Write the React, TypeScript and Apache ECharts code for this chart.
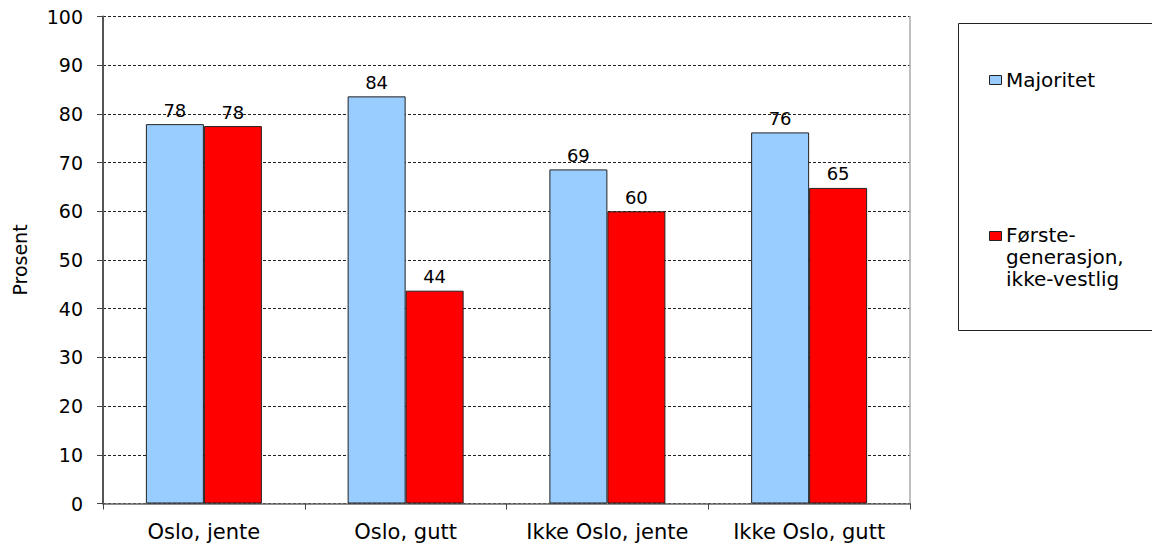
import React, { useEffect, useRef } from "react";
import * as echarts from "echarts";

const categories = ["Oslo, jente", "Oslo, gutt", "Ikke Oslo, jente", "Ikke Oslo, gutt"];
const seriesNames = ["Majoritet", "Første-\ngenerasjon,\nikke-vestlig"];
const majoritet = [77.9, 83.6, 68.6, 76.2];
const forste = [77.5, 43.7, 60.0, 64.8];
const yTicks = { min: 0, max: 100, interval: 10 };
const colors = ["#99CCFF", "#FF0000"];
const axisName = "Prosent";

const FONT = "DejaVu Sans, Liberation Sans, Arial, sans-serif";

export default function App() {
  const ref = useRef<HTMLDivElement>(null);
  useEffect(() => {
    if (!ref.current) return;
    const chart = echarts.init(ref.current, null, { renderer: "svg" });
    const label = {
      show: true,
      position: "top",
      distance: 5,
      color: "#000",
      fontSize: 18,
      fontFamily: FONT,
      formatter: (p: any) => String(Math.round(p.value)),
    };
    chart.setOption({
      animation: false,
      backgroundColor: "#fff",
      textStyle: { fontFamily: FONT },
      grid: { left: 103, right: 242, top: 16.5, bottom: 43.5, containLabel: false },
      xAxis: {
        type: "category",
        data: categories,
        axisLine: { show: true, lineStyle: { color: "#666", width: 1.5 } },
        axisTick: { show: true, length: 6, lineStyle: { color: "#444" } },
        axisLabel: { color: "#000", fontSize: 21, fontFamily: FONT, margin: 18, interval: 0, hideOverlap: false },
        splitLine: { show: false },
      },
      yAxis: [
        {
          type: "value",
          min: yTicks.min,
          max: yTicks.max,
          interval: yTicks.interval,
          name: axisName,
          nameLocation: "middle",
          nameGap: 74,
          nameRotate: 90,
          nameTextStyle: { color: "#000", fontSize: 19, fontFamily: FONT },
          axisLine: { show: true, lineStyle: { color: "#555", width: 2 } },
          axisTick: { show: true, length: 6, lineStyle: { color: "#444" } },
          axisLabel: { color: "#000", fontSize: 19, fontFamily: FONT, margin: 20 },
          splitLine: { show: true, lineStyle: { color: "#222", type: [3, 2], width: 1 } },
        },
        {
          type: "value",
          position: "right",
          min: yTicks.min,
          max: yTicks.max,
          interval: yTicks.interval,
          axisLine: { show: true, lineStyle: { color: "#aaa", width: 1.5 } },
          axisTick: { show: false },
          axisLabel: { show: false },
          splitLine: { show: false },
        },
      ],
      series: [
        {
          name: seriesNames[0],
          type: "bar",
          data: majoritet,
          barWidth: 58,
          barGap: "0%",
          itemStyle: { color: colors[0], borderColor: "#222", borderWidth: 1 },
          label,
        },
        {
          name: seriesNames[1],
          type: "bar",
          data: forste,
          barWidth: 58,
          barGap: "0%",
          itemStyle: { color: colors[1], borderColor: "#222", borderWidth: 1 },
          label,
        },
      ],
      graphic: [
        {
          type: "rect",
          shape: { x: 958.5, y: 23.5, width: 210, height: 307 },
          style: { fill: "#fff", stroke: "#222", lineWidth: 1 },
        },
        {
          type: "rect",
          shape: { x: 989.5, y: 75.5, width: 12, height: 9 },
          style: { fill: colors[0], stroke: "#222", lineWidth: 1 },
        },
        {
          type: "text",
          x: 1006,
          y: 80,
          style: {
            text: seriesNames[0],
            fontSize: 20,
            fontFamily: FONT,
            fill: "#000",
            verticalAlign: "middle",
          },
        },
        {
          type: "rect",
          shape: { x: 989.5, y: 231.5, width: 12, height: 9 },
          style: { fill: colors[1], stroke: "#222", lineWidth: 1 },
        },
        {
          type: "text",
          x: 1006,
          y: 224,
          style: {
            text: seriesNames[1],
            fontSize: 20,
            fontFamily: FONT,
            fill: "#000",
            verticalAlign: "top",
            lineHeight: 22,
          },
        },
      ],
    });
    return () => chart.dispose();
  }, []);
  return <div ref={ref} style={{ width: 1152, height: 547, position: "absolute", left: 0, top: 0 }} />;
}
